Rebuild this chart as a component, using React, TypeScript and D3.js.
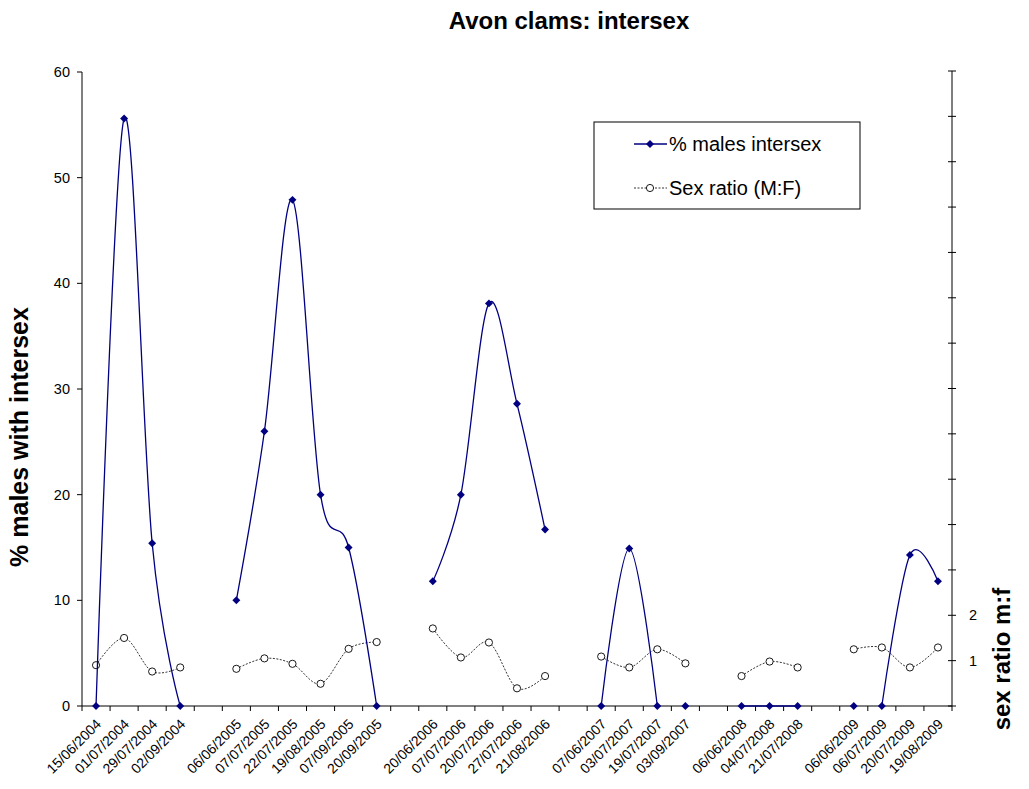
import React from "react";
import * as d3 from "d3";

const categories: string[] = [
  "15/06/2004", "01/07/2004", "29/07/2004", "02/09/2004", "",
  "06/06/2005", "07/07/2005", "22/07/2005", "19/08/2005", "07/09/2005", "20/09/2005", "",
  "20/06/2006", "07/07/2006", "20/07/2006", "27/07/2006", "21/08/2006", "",
  "07/06/2007", "03/07/2007", "19/07/2007", "03/09/2007", "",
  "06/06/2008", "04/07/2008", "21/07/2008", "",
  "06/06/2009", "06/07/2009", "20/07/2009", "19/08/2009",
];

const intersex: (number | null)[] = [
  0, 55.6, 15.4, 0, null,
  10, 26, 47.9, 20, 15, 0, null,
  11.8, 20, 38.1, 28.6, 16.7, null,
  0, 14.9, 0, 0, null,
  0, 0, 0, null,
  0, 0, 14.3, 11.8,
];

// the intersex line is not drawn between these category indices and the next one
const intersexBreaksAfter = [20, 27];

const sexRatio: (number | null)[] = [
  0.9, 1.5, 0.76, 0.85, null,
  0.82, 1.05, 0.93, 0.49, 1.26, 1.41, null,
  1.71, 1.07, 1.4, 0.39, 0.66, null,
  1.09, 0.85, 1.25, 0.94, null,
  0.66, 0.98, 0.85, null,
  1.25, 1.29, 0.85, 1.29,
];

const leftTicks = [0, 10, 20, 30, 40, 50, 60];
const rightTicks = d3.range(0, 15);
const rightTickLabels: Record<number, string> = { 1: "1", 2: "2" };

const title = "Avon clams: intersex";
const leftTitle = "% males with intersex";
const rightTitle = "sex ratio  m:f";
const legendLabels = ["% males intersex", "Sex ratio (M:F)"];

const W = 1029;
const H = 789;
const plot = { left: 82, right: 952, top: 72, bottom: 706 };
const FONT = "'Liberation Sans', Arial, sans-serif";
const NAVY = "#000080";

function segments(values: (number | null)[], breaks: number[]) {
  const segs: { i: number; v: number }[][] = [];
  let cur: { i: number; v: number }[] = [];
  values.forEach((v, i) => {
    if (v === null) {
      if (cur.length) segs.push(cur);
      cur = [];
      return;
    }
    cur.push({ i, v });
    if (breaks.includes(i)) {
      segs.push(cur);
      cur = [];
    }
  });
  if (cur.length) segs.push(cur);
  return segs;
}

export default function App() {
  const idx = categories.map((_, i) => i);
  const x = d3.scaleBand<number>().domain(idx).range([plot.left, plot.right]).padding(0);
  const cx = (i: number) => (x(i) as number) + x.bandwidth() / 2;
  const yL = d3.scaleLinear().domain([0, 60]).range([plot.bottom, plot.top]);
  const yR = d3.scaleLinear().domain([0, 14]).range([plot.bottom, plot.top - 1]);

  const lineL = d3
    .line<{ i: number; v: number }>()
    .x((d) => cx(d.i))
    .y((d) => yL(d.v))
    .curve(d3.curveCardinal.tension(0));
  const lineR = d3
    .line<{ i: number; v: number }>()
    .x((d) => cx(d.i))
    .y((d) => yR(d.v))
    .curve(d3.curveCardinal.tension(0));

  const segL = segments(intersex, intersexBreaksAfter);
  const segR = segments(sexRatio, []);

  const diamond = d3.symbol().type(d3.symbolDiamond2).size(40)();
  const bw = x.bandwidth();

  return (
    <svg
      width={W}
      height={H}
      style={{ position: "absolute", left: 0, top: 0, display: "block", background: "#fff" }}
      fontFamily={FONT}
    >
      <rect x={0} y={0} width={W} height={H} fill="#fff" />
      {/* title */}
      <text x={569} y={29} textAnchor="middle" fontSize={24} fontWeight="bold">
        {title}
      </text>

      {/* left axis */}
      <line x1={plot.left} x2={plot.left} y1={plot.top} y2={plot.bottom} stroke="#000" />
      {leftTicks.map((t) => (
        <g key={"l" + t}>
          <line x1={plot.left - 5} x2={plot.left} y1={yL(t)} y2={yL(t)} stroke="#000" />
          <text x={plot.left - 12} y={yL(t)} dy="0.35em" textAnchor="end" fontSize={14.5}>
            {t}
          </text>
        </g>
      ))}
      <text
        transform={`translate(28,437) rotate(-90)`}
        textAnchor="middle"
        fontSize={25}
        fontWeight="bold"
      >
        {leftTitle}
      </text>

      {/* right axis */}
      <line x1={plot.right} x2={plot.right} y1={yR(14)} y2={plot.bottom} stroke="#000" />
      {rightTicks.map((t) => (
        <g key={"r" + t}>
          <line x1={plot.right - 4} x2={plot.right + 4} y1={yR(t)} y2={yR(t)} stroke="#000" />
          {rightTickLabels[t] ? (
            <text x={plot.right + 17} y={yR(t)} dy="0.35em" textAnchor="start" fontSize={14.5}>
              {rightTickLabels[t]}
            </text>
          ) : null}
        </g>
      ))}
      <text
        transform={`translate(1010,659) rotate(-90)`}
        textAnchor="middle"
        fontSize={24}
        fontWeight="bold"
      >
        {rightTitle}
      </text>

      {/* x axis */}
      <line x1={plot.left} x2={plot.right} y1={plot.bottom} y2={plot.bottom} stroke="#000" />
      {d3.range(categories.length + 1).map((k) => (
        <line
          key={"xt" + k}
          x1={plot.left + k * bw}
          x2={plot.left + k * bw}
          y1={plot.bottom}
          y2={plot.bottom + 5}
          stroke="#000"
        />
      ))}
      {categories.map((c, i) =>
        c ? (
          <text
            key={"xl" + i}
            transform={`translate(${cx(i) + 6},${plot.bottom + 19}) rotate(-45)`}
            textAnchor="end"
            fontSize={14}
          >
            {c}
          </text>
        ) : null
      )}

      {/* sex ratio series */}
      {segR.map((s, k) => (
        <path
          key={"sl" + k}
          d={lineR(s) || ""}
          fill="none"
          stroke="#000"
          strokeWidth={0.8}
          strokeDasharray="2,1.5"
        />
      ))}
      {sexRatio.map((v, i) =>
        v === null ? null : (
          <circle key={"sr" + i} cx={cx(i)} cy={yR(v)} r={3.6} fill="#fff" stroke="#000" strokeWidth={0.9} />
        )
      )}

      {/* intersex series */}
      {segL.map((s, k) => (
        <path key={"il" + k} d={lineL(s) || ""} fill="none" stroke={NAVY} strokeWidth={1.3} />
      ))}
      {intersex.map((v, i) =>
        v === null ? null : (
          <path key={"ix" + i} d={diamond || ""} transform={`translate(${cx(i)},${yL(v)})`} fill={NAVY} />
        )
      )}

      {/* legend */}
      <rect x={594} y={122} width={266} height={87} fill="#fff" stroke="#000" strokeWidth={1} />
      <line x1={634} x2={667} y1={144} y2={144} stroke={NAVY} strokeWidth={1.3} />
      <path d={diamond || ""} transform="translate(650,144)" fill={NAVY} />
      <text x={669} y={144} dy="0.36em" fontSize={20}>
        {legendLabels[0]}
      </text>
      <line x1={634} x2={667} y1={188} y2={188} stroke="#000" strokeWidth={0.8} strokeDasharray="2,1.5" />
      <circle cx={650} cy={188} r={3.6} fill="#fff" stroke="#000" strokeWidth={0.9} />
      <text x={669} y={188} dy="0.36em" fontSize={20}>
        {legendLabels[1]}
      </text>
    </svg>
  );
}
